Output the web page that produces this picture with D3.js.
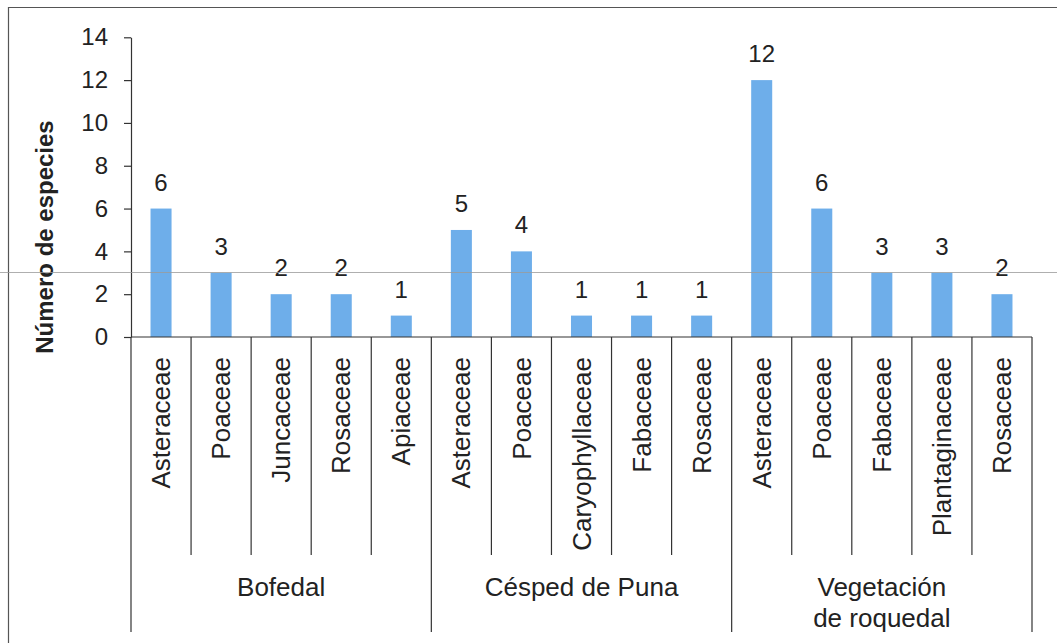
<!DOCTYPE html>
<html><head><meta charset="utf-8">
<script src="https://cdn.jsdelivr.net/npm/d3@7"></script>
<style>
html,body{margin:0;padding:0;background:#fff;}
svg{display:block;font-family:"Liberation Sans",Arial,sans-serif;}
</style></head>
<body>
<svg id="chart" width="1057" height="643"></svg>
<script>
// ---- data ----
const families = ["Asteraceae","Poaceae","Juncaceae","Rosaceae","Apiaceae",
  "Asteraceae","Poaceae","Caryophyllaceae","Fabaceae","Rosaceae",
  "Asteraceae","Poaceae","Fabaceae","Plantaginaceae","Rosaceae"];
const values = [6,3,2,2,1, 5,4,1,1,1, 12,6,3,3,2];
const groupOf = [0,0,0,0,0, 1,1,1,1,1, 2,2,2,2,2];
const groupLabels = [["Bofedal"],["Césped de Puna"],["Vegetación","de roquedal"]];
const yTicks = [0,2,4,6,8,10,12,14];
const yTitle = "Número de especies";

// ---- layout ----
const svg = d3.select("#chart");
const X0 = 131, X1 = 1032, Y0 = 337, Ytop = 37.3;
const ink = "#222";
const barColor = "#6eaeea";

const idx = d3.range(values.length);
const x = d3.scaleBand().domain(idx).range([X0, X1]).paddingInner(0.65).paddingOuter(0.325);
const y = d3.scaleLinear().domain([0,14]).range([Y0, Ytop]);

// frame (top & left border)
svg.append("line").attr("x1",8).attr("x2",1057).attr("y1",7.5).attr("y2",7.5).attr("stroke","#555").attr("stroke-width",1.2);
svg.append("line").attr("x1",8.5).attr("x2",8.5).attr("y1",7).attr("y2",643).attr("stroke","#555").attr("stroke-width",1.2);

// bars
svg.append("g").selectAll("rect").data(idx).join("rect")
  .attr("x", i => x(i)).attr("width", x.bandwidth())
  .attr("y", i => y(values[i])).attr("height", i => Y0 - y(values[i]))
  .attr("fill", barColor);

// value labels
svg.append("g").selectAll("text").data(idx).join("text")
  .attr("x", i => x(i) + x.bandwidth()/2)
  .attr("y", i => y(values[i]) - 18)
  .attr("text-anchor","middle").attr("font-size",24).attr("fill",ink)
  .text(i => values[i]);

// y axis
const yAxis = d3.axisLeft(y).tickValues(yTicks).tickSize(7).tickPadding(16).tickSizeOuter(0);
const gy = svg.append("g").attr("transform",`translate(${X0},0)`).call(yAxis);
gy.select(".domain").attr("stroke","#333").attr("stroke-width",1.2);
gy.selectAll(".tick line").attr("stroke","#333").attr("stroke-width",1.2);
gy.selectAll(".tick text").attr("font-size",24).attr("fill",ink)
  .attr("font-family","Liberation Sans, Arial, sans-serif");

// y title
svg.append("text")
  .attr("transform","translate(53,237) rotate(-90)")
  .attr("text-anchor","middle").attr("font-size",24).attr("font-weight","bold").attr("fill",ink)
  .text(yTitle);

// x axis line
svg.append("line").attr("x1",X0).attr("x2",X1).attr("y1",Y0).attr("y2",Y0)
  .attr("stroke","#333").attr("stroke-width",1.2);

// category dividers
const step = x.step();
const bounds = d3.range(values.length + 1);
svg.append("g").selectAll("line").data(bounds).join("line")
  .attr("x1", k => X0 + k*step).attr("x2", k => X0 + k*step)
  .attr("y1", Y0)
  .attr("y2", k => (k === 0 || k === values.length || groupOf[k] !== groupOf[k-1]) ? 632 : 555)
  .attr("stroke","#333").attr("stroke-width",1.2);

// category labels
svg.append("g").selectAll("text").data(idx).join("text")
  .attr("transform", i => `translate(${x(i)+x.bandwidth()/2},357) rotate(-90)`)
  .attr("dy","0.35em").attr("text-anchor","end")
  .attr("font-size",26).attr("fill",ink)
  .text(i => families[i]);

// group labels
groupLabels.forEach((lines, g) => {
  const members = idx.filter(i => groupOf[i] === g);
  const cx = (x(members[0]) + x(members[members.length-1]) + x.bandwidth())/2;
  const t = svg.append("text").attr("text-anchor","middle").attr("font-size",26).attr("fill",ink);
  lines.forEach((ln, j) => {
    t.append("tspan").attr("x", cx).attr("y", 596 + j*31).text(ln);
  });
});

// thin scan line across the image
svg.append("line").attr("x1",0).attr("x2",1057).attr("y1",272.5).attr("y2",272.5)
  .attr("stroke","#9a9a9a").attr("stroke-width",0.8);
</script>
</body></html>
